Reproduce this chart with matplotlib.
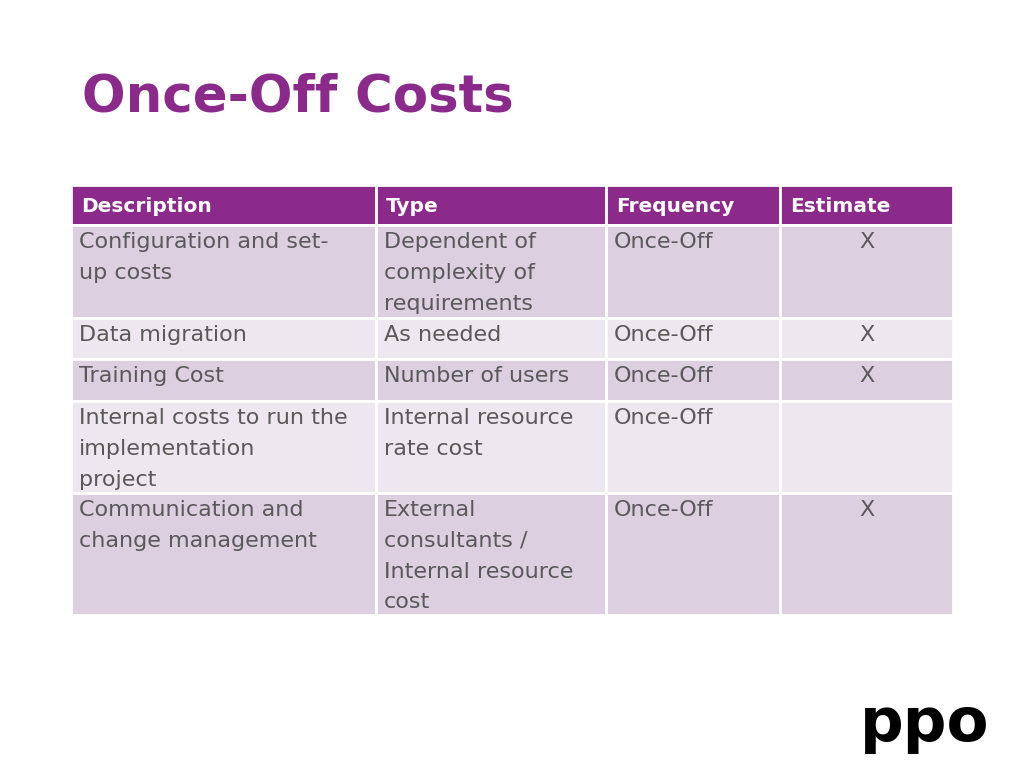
import matplotlib.pyplot as plt
from matplotlib.patches import Rectangle

W, H = 1024, 768

title = "Once-Off Costs"
headers = ["Description", "Type", "Frequency", "Estimate"]
descriptions = ["Configuration and set-\nup costs", "Data migration", "Training Cost",
                "Internal costs to run the\nimplementation\nproject",
                "Communication and\nchange management"]
types = ["Dependent of\ncomplexity of\nrequirements", "As needed", "Number of users",
         "Internal resource\nrate cost", "External\nconsultants /\nInternal resource\ncost"]
frequencies = ["Once-Off"] * 5
estimates = ["X", "X", "X", "", "X"]

col_edges = [71, 376, 606, 780, 953]
row_edges = [185, 225, 318, 359, 401, 493, 615]
LINE_PITCH = 30.8

PURPLE = "#8b2a8b"
DARK = "#dccfe0"
LIGHT = "#ede7ef"
TEXT = "#595959"

fig = plt.figure(figsize=(W / 100, H / 100), dpi=100)
fig.patch.set_facecolor("white")
ax = fig.add_axes([0, 0, 1, 1])
ax.set_xlim(0, W)
ax.set_ylim(H, 0)
ax.axis("off")

ax.text(82, 98, title, fontsize=37, fontweight="bold", color=PURPLE,
        va="center", ha="left")

rows = list(zip(descriptions, types, frequencies, estimates))
for r in range(len(row_edges) - 1):
    y0, y1 = row_edges[r], row_edges[r + 1]
    if r == 0:
        fc = PURPLE
    else:
        fc = DARK if r % 2 == 1 else LIGHT
    for c in range(4):
        x0, x1 = col_edges[c], col_edges[c + 1]
        ax.add_patch(Rectangle((x0, y0), x1 - x0, y1 - y0, facecolor=fc,
                               edgecolor="white", linewidth=2))
        if r == 0:
            ax.text(x0 + 10, y0 + 21, headers[c], fontsize=14.5, fontweight="bold",
                    color="white", va="center", ha="left")
            continue
        for i, line in enumerate(rows[r - 1][c].split("\n")):
            y = y0 + 17 + i * LINE_PITCH
            if c == 3:
                ax.text((x0 + x1) / 2, y, line, fontsize=16, color=TEXT,
                        va="center", ha="center")
            else:
                ax.text(x0 + 8, y, line, fontsize=16, color=TEXT,
                        va="center", ha="left")

ax.text(925, 724, "ppo", fontsize=44, fontweight="bold", color="black",
        va="center", ha="center")

fig.savefig("out.png", dpi=100)
